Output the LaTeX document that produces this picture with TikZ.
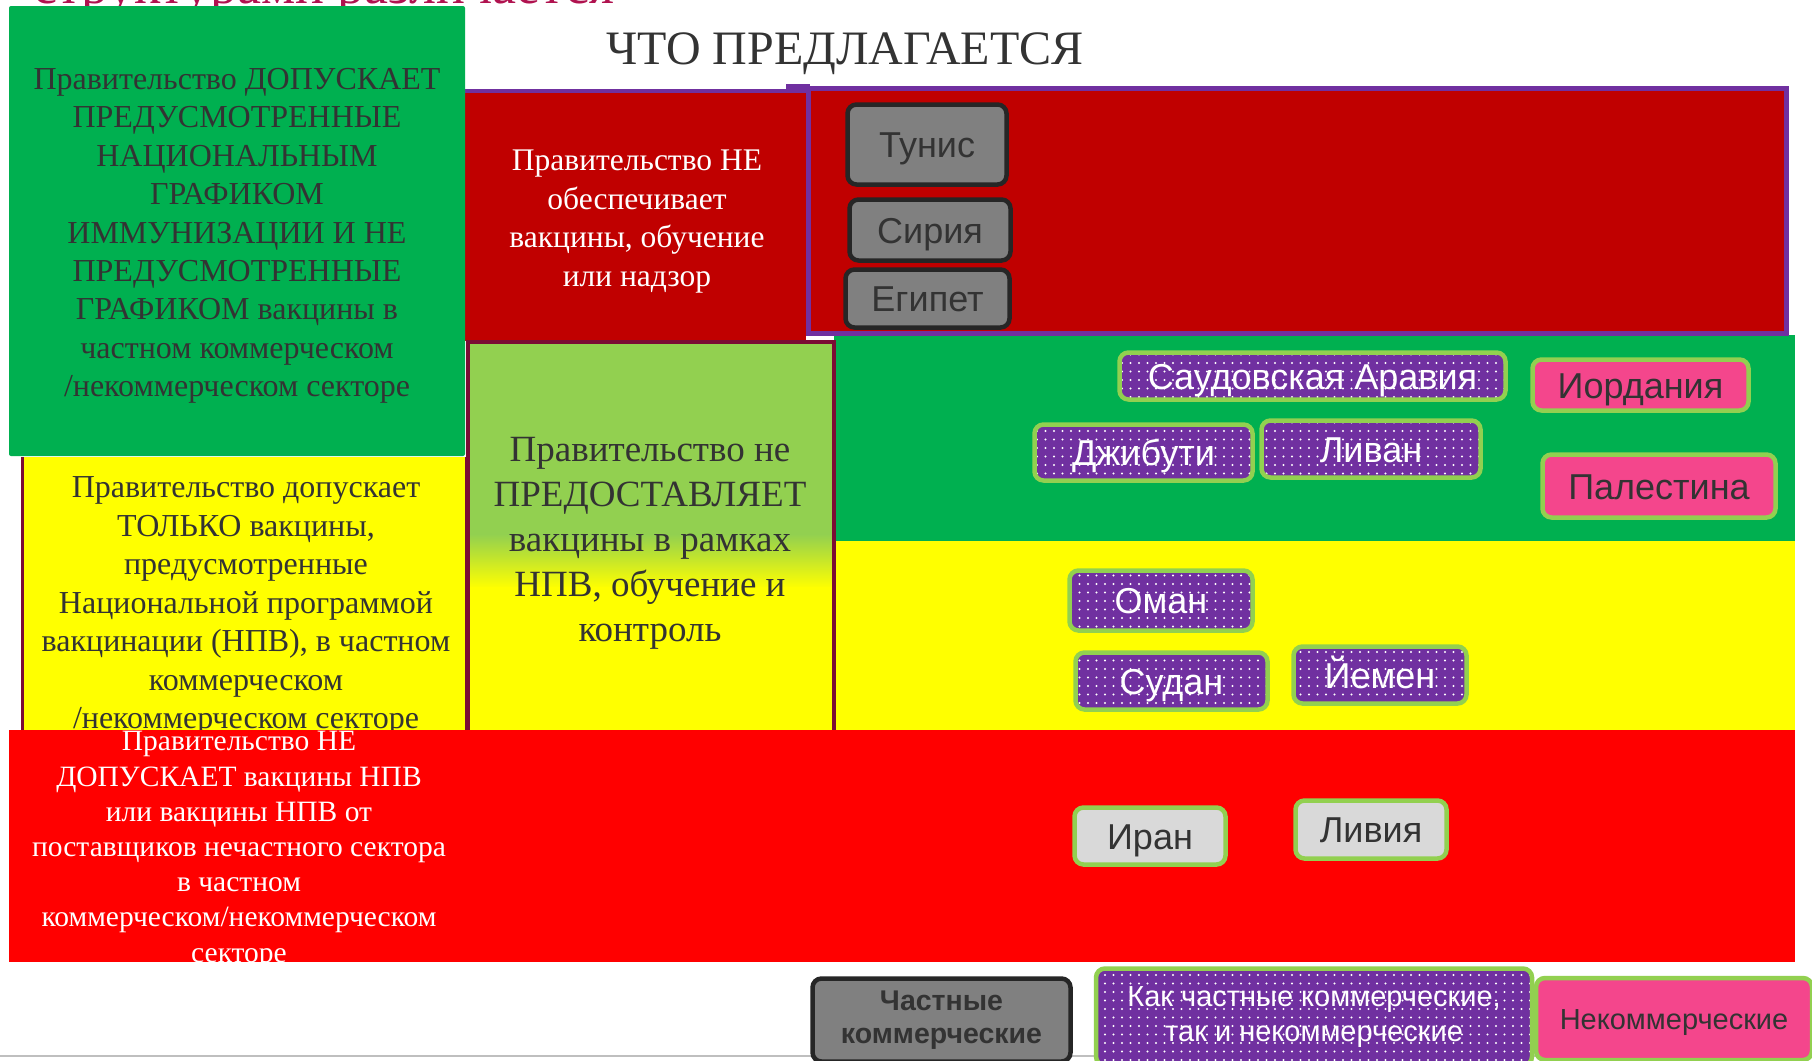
\documentclass[tikz,border=0pt]{standalone}
\usepackage{fontspec}
\setmainfont{Liberation Serif}
\newfontfamily\sansf{Liberation Sans}
\usetikzlibrary{patterns.meta}
\definecolor{grn}{HTML}{00B050}
\definecolor{lgrn}{HTML}{92D050}
\definecolor{dred}{HTML}{C00000}
\definecolor{bred}{HTML}{FF0000}
\definecolor{yel}{HTML}{FFFF00}
\definecolor{purp}{HTML}{7030A0}
\definecolor{pinkc}{HTML}{F4468C}
\definecolor{maroon}{HTML}{7B0C34}
\definecolor{pgrayc}{HTML}{808080}
\definecolor{pdark}{HTML}{262626}
\definecolor{lgray}{HTML}{D9D9D9}
\definecolor{txt}{HTML}{333333}
\definecolor{crim}{HTML}{B0124F}
\tikzset{
  pill/.style={rounded corners=9pt, line width=4.5pt, inner sep=0pt, align=center,
    font=\sansf\fontsize{36}{42}\selectfont},
  cpill/.style={pill, text height=26pt, text depth=0pt},
  pgray/.style={draw=pdark, fill=pgrayc, text=txt},
  ppurp/.style={draw=lgrn, preaction={fill=purp},
    pattern={Dots[distance=8.5pt,radius=1.2pt]}, pattern color=white, text=white},
  ppink/.style={draw=lgrn, fill=pinkc, text=txt},
  plgray/.style={draw=lgrn, fill=lgray, text=txt},
  bigtxt/.style={align=center, inner sep=0pt},
}
\begin{document}
\begin{tikzpicture}[x=1pt,y=-1pt]
\useasboundingbox (0,0) rectangle (1812,1060);
\clip (0,0) rectangle (1812,1060);
\fill[white] (0,0) rectangle (1812,1060);

% cut-off heading
\node[anchor=base west, inner sep=0pt, text=crim, font=\fontsize{54}{60}\selectfont] (head) at (33,3) {структурами различается};

% right bands
\fill[grn] (834,335) rectangle (1795,541);
\fill[yel] (834,541) rectangle (1795,730);

% top right frame
\fill[purp] (786,84) rectangle (810,91);
\draw[purp, line width=5pt, fill=dred] (808,88) rectangle (1786,333);

% top left dark red box
\fill[dred] (465,91) rectangle (806,341);
\fill[purp] (465,89) rectangle (806,93);
\node[bigtxt, text=white, font=\fontsize{31.5}{38.5}\selectfont] (t1) at (637,221.5)
  {Правительство НЕ\\обеспечивает\\вакцины, обучение\\или надзор};

% green box
\fill[grn, rounded corners=2pt] (9,6) rectangle (465,456);
\node[bigtxt, text=txt, font=\fontsize{32}{38.4}\selectfont] (t2) at (237,236)
  {Правительство ДОПУСКАЕТ\\ПРЕДУСМОТРЕННЫЕ\\НАЦИОНАЛЬНЫМ\\ГРАФИКОМ\\ИММУНИЗАЦИИ И НЕ\\ПРЕДУСМОТРЕННЫЕ\\ГРАФИКОМ вакцины в\\частном коммерческом\\/некоммерческом секторе};

% yellow box
\fill[yel] (21,457) rectangle (468,730);
\draw[maroon, line width=3pt] (22,457) -- (22,730) (466,457) -- (466,730);
\node[bigtxt, text=txt, font=\fontsize{32}{38.5}\selectfont] (t3) at (246,606)
  {Правительство допускает\\ТОЛЬКО вакцины,\\предусмотренные\\Национальной программой\\вакцинации (НПВ), в частном\\коммерческом\\/некоммерческом секторе};

% middle gradient box
\fill[lgrn] (468,342) rectangle (834,535);
\shade[top color=lgrn, bottom color=yel] (468,534) rectangle (834,588);
\fill[yel] (468,587) rectangle (834,730);
\draw[maroon, line width=3.5pt] (468,731) -- (468,342) -- (834,342) -- (834,731);
\node[bigtxt, text=txt, font=\fontsize{37}{45}\selectfont] (t4) at (650,543)
  {Правительство не\\ПРЕДОСТАВЛЯЕТ\\вакцины в рамках\\НПВ, обучение и\\контроль};

% bottom red box
\fill[bred] (9,730) rectangle (1795,962);
\node[bigtxt, text=white, font=\fontsize{29.5}{35.2}\selectfont] (t5) at (239,850)
  {Правительство НЕ\\ДОПУСКАЕТ вакцины НПВ\\или вакцины НПВ от\\поставщиков нечастного сектора\\в частном\\коммерческом/некоммерческом\\секторе};

% title
\node[text=txt, font=\fontsize{48}{54}\selectfont, inner sep=0pt] (title) at (845,54) {ЧТО ПРЕДЛАГАЕТСЯ};

% country pills
\node[cpill, pgray, minimum width=159pt, minimum height=80pt] (tun) at (927,144.5) {Тунис};
\node[cpill, pgray, minimum width=161pt, minimum height=61pt] (syr) at (930,230) {Сирия};
\node[cpill, pgray, minimum width=164pt, minimum height=58pt] (egy) at (927.5,298.5) {Египет};

\node[cpill, ppurp, minimum width=386pt, minimum height=47pt] (sau) at (1312.5,376) {Саудовская Аравия};
\node[cpill, ppurp, minimum width=218pt, minimum height=56pt] (dji) at (1143.5,452.5) {Джибути};
\node[cpill, ppurp, minimum width=219pt, minimum height=57pt] (leb) at (1371,449) {Ливан};
\node[cpill, ppink, minimum width=216pt, minimum height=51pt] (jor) at (1640.5,385) {Иордания};
\node[cpill, ppink, minimum width=233pt, minimum height=63pt] (pal) at (1659,486) {Палестина};

\node[cpill, ppurp, minimum width=183pt, minimum height=60pt] (oma) at (1161,600.5) {Оман};
\node[cpill, ppurp, minimum width=192pt, minimum height=57pt] (sud) at (1171.5,681) {Судан};
\node[cpill, ppurp, minimum width=173pt, minimum height=57pt] (yem) at (1380,675) {Йемен};

\node[cpill, plgray, minimum width=151pt, minimum height=57pt] (irn) at (1150,836) {Иран};
\node[cpill, plgray, minimum width=151pt, minimum height=58pt] (lby) at (1371,829.5) {Ливия};

% bottom line
\draw[gray!50, line width=2pt] (0,1056) -- (1812,1056);

% legend
\node[pill, pgray, font=\sansf\bfseries\fontsize{28.5}{33}\selectfont, minimum width=258pt, minimum height=83pt] (lg1) at (941.5,1020) {Частные\\коммерческие};
\node[pill, ppurp, font=\sansf\fontsize{29}{35}\selectfont, minimum width=436pt, minimum height=97pt] (lg2) at (1314,1017) {Как частные коммерческие,\\так и некоммерческие};
\node[cpill, ppink, font=\sansf\fontsize{29}{34}\selectfont, text height=20pt, minimum width=276pt, minimum height=82pt] (lg3) at (1674,1019) {Некоммерческие};
\end{tikzpicture}
\end{document}
